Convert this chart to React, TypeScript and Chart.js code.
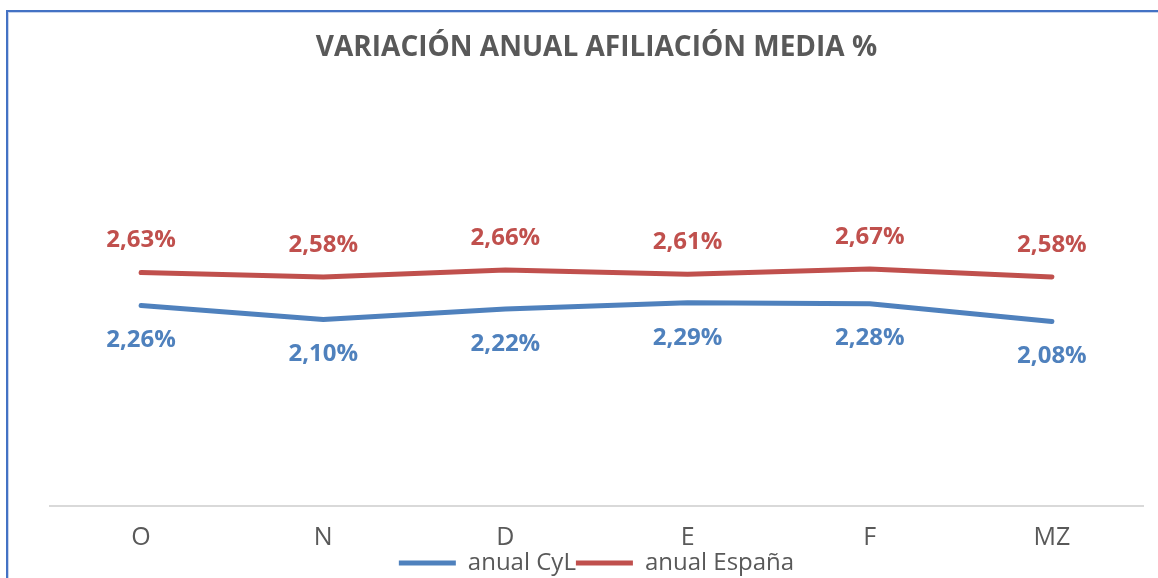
import React, { useEffect, useRef } from "react";
import { Chart, registerables } from "chart.js";

Chart.register(...registerables);

const categories = ["O", "N", "D", "E", "F", "MZ"];
const cylValues = [2.26, 2.1, 2.22, 2.29, 2.28, 2.08];
const espanaValues = [2.63, 2.58, 2.66, 2.61, 2.67, 2.58];
const seriesNames = ["anual CyL", "anual España"];
const titleText = "VARIACIÓN ANUAL AFILIACIÓN MEDIA %";

const BLUE = "#4F81BD";
const RED = "#C0504D";
const GREY = "#595959";
const FONT = "'Open Sans', 'DejaVu Sans', sans-serif";

const fmt = (v: number) => v.toFixed(2).replace(".", ",") + "%";

const dataLabelPlugin = {
  id: "dataLabels",
  afterDatasetsDraw(chart: any) {
    const ctx = chart.ctx;
    ctx.save();
    ctx.font = `bold 24px ${FONT}`;
    ctx.textAlign = "center";
    ctx.textBaseline = "middle";
    chart.data.datasets.forEach((ds: any, di: number) => {
      const meta = chart.getDatasetMeta(di);
      ctx.fillStyle = ds.borderColor;
      meta.data.forEach((pt: any, i: number) => {
        const off = di === 1 ? -32 : 35;
        ctx.fillText(fmt(ds.data[i]), pt.x, pt.y + off);
      });
    });
    ctx.restore();
  },
};

export default function App() {
  const ref = useRef<HTMLCanvasElement | null>(null);
  useEffect(() => {
    if (!ref.current) return;
    const chart = new Chart(ref.current, {
      type: "line",
      data: {
        labels: categories,
        datasets: [
          {
            label: seriesNames[0],
            data: cylValues,
            borderColor: BLUE,
            backgroundColor: BLUE,
            borderWidth: 5,
            borderCapStyle: "round",
            borderJoinStyle: "round",
            pointRadius: 0,
            tension: 0,
          },
          {
            label: seriesNames[1],
            data: espanaValues,
            borderColor: RED,
            backgroundColor: RED,
            borderWidth: 5,
            borderCapStyle: "round",
            borderJoinStyle: "round",
            pointRadius: 0,
            tension: 0,
          },
        ],
      },
      options: {
        animation: false,
        responsive: false,
        maintainAspectRatio: false,
        layout: { padding: { left: 50, right: 15, top: 0, bottom: 0 } },
        scales: {
          x: {
            offset: true,
            grid: { display: false, drawTicks: false },
            border: { display: true, color: "#d9d9d9", width: 2 },
            ticks: { color: GREY, font: { family: FONT, size: 25 }, padding: 17 },
            afterFit: (scale: any) => {
              scale.height = 45;
            },
          },
          y: {
            display: false,
            min: 0,
            max: 4.5,
          },
        },
        plugins: {
          title: {
            display: true,
            text: titleText,
            color: GREY,
            font: { family: FONT, size: 28, weight: "bold" },
            padding: { top: 31, bottom: 42 },
          },
          legend: {
            display: true,
            position: "bottom",
            maxHeight: 27,
            labels: {
              usePointStyle: true,
              pointStyle: "line",
              pointStyleWidth: 57,
              color: GREY,
              font: { family: FONT, size: 24 },
              padding: 0,
            },
          },
          tooltip: { enabled: false },
        },
      },
      plugins: [dataLabelPlugin],
    });
    return () => chart.destroy();
  }, []);

  return (
    <div style={{ position: "fixed", left: 0, top: 0, width: 1158, height: 578, background: "#fff", overflow: "hidden" }}>
      <div
        style={{
          position: "absolute",
          left: 6,
          top: 10,
          width: 1200,
          height: 620,
          borderTop: "2px solid #4472C4",
          borderLeft: "2px solid #4472C4",
          boxShadow: "inset 1px 1px 0 #c8d4ec",
        }}
      />
      <canvas ref={ref} width={1158} height={578} style={{ position: "absolute", left: 0, top: 0 }} />
    </div>
  );
}
